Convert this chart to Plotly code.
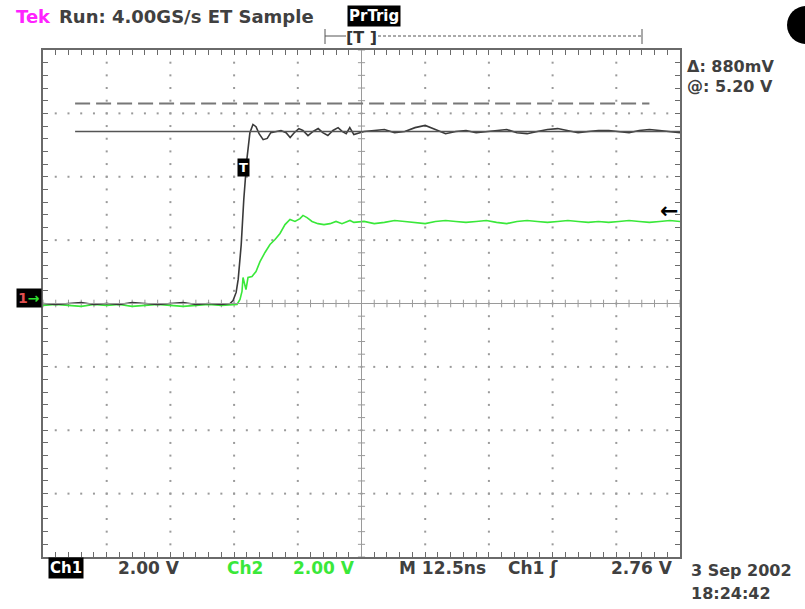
import plotly.graph_objects as go

# ---------------- data ----------------
t_range = [0, 125]      # ns, 12.5 ns/div, 10 divisions
v_range = [-8, 8]       # V, 2.00 V/div, 8 divisions
div_t = 12.5
div_v = 2.0

ch1_t = [0, 2.5, 5, 7.5, 10, 12.5, 15, 17.5, 20, 22.5, 25, 27.5, 30, 32.5, 35,
         36.7, 37.3, 37.9, 38.3, 38.9, 39.4, 40.0, 40.6, 41.2, 41.8,
         42.4, 43.2, 44.0, 44.7, 45.7, 46.7, 47.7, 48.5, 49.3, 50.2,
         51.0, 52.0, 53.0, 54.0, 54.9, 55.9, 56.9, 57.9, 58.7, 59.5, 60.2,
         61, 63, 65, 67, 69, 71, 73, 75, 77, 79, 81, 83, 85, 87, 89, 91, 93,
         95, 97, 99, 101, 103, 105, 107, 109, 111, 113, 115, 117, 119, 121, 123, 125]
ch1_v = [0.0, -0.03, 0.0, 0.03, -0.03, 0.0, -0.03, 0.03, 0.0, -0.03, 0.0, 0.03, -0.03, 0.0, -0.03,
         0.0, 0.09, 0.35, 0.76, 1.86, 3.28, 4.54, 5.39, 5.65, 5.58,
         5.36, 5.17, 5.21, 5.39, 5.43, 5.46, 5.39, 5.24, 5.39, 5.52,
         5.46, 5.30, 5.43, 5.52, 5.39, 5.30, 5.46, 5.55, 5.43, 5.36, 5.55,
         5.33, 5.43, 5.46, 5.49, 5.39, 5.43, 5.55, 5.62, 5.49, 5.36, 5.43, 5.46, 5.39,
         5.43, 5.46, 5.49, 5.39, 5.36, 5.43, 5.49, 5.52, 5.46, 5.39, 5.43, 5.46, 5.46,
         5.43, 5.39, 5.46, 5.49, 5.46, 5.43, 5.39]

ch2_t = [0, 2.5, 5, 7.5, 10, 12.5, 15, 17.5, 20, 22.5, 25, 27.5, 30, 32.5, 35, 37.5,
         38.07, 38.66, 39.05, 39.25, 39.83, 40.23, 41.01, 41.80, 42.58, 43.56,
         44.54, 45.53, 46.51, 47.49, 48.47, 49.45, 50.43, 51.02, 51.81, 52.79,
         53.96, 55.14, 56.32, 57.50, 58.67, 60.24,
         61, 63, 65, 67, 69, 71, 73, 75, 77, 79, 81, 83, 85, 87, 89, 91, 93,
         95, 97, 99, 101, 103, 105, 107, 109, 111, 113, 115, 117, 119, 121, 123, 125]
ch2_v = [-0.06, -0.03, -0.06, -0.09, -0.03, -0.06, -0.03, -0.09, -0.06, -0.03, -0.06, -0.09,
         -0.06, -0.03, -0.06, -0.03,
         -0.03, 0.13, 0.38, 0.82, 0.44, 0.82, 0.85, 1.01, 1.32, 1.61,
         1.86, 2.02, 2.21, 2.49, 2.65, 2.59, 2.68, 2.78, 2.71, 2.59,
         2.52, 2.49, 2.52, 2.59, 2.52, 2.62,
         2.56, 2.59, 2.52, 2.56, 2.62, 2.59, 2.56, 2.52, 2.59, 2.62, 2.59, 2.56, 2.59,
         2.62, 2.56, 2.52, 2.59, 2.62, 2.59, 2.56, 2.59, 2.62, 2.59, 2.56, 2.59, 2.56,
         2.59, 2.62, 2.59, 2.56, 2.59, 2.62, 2.59]

cursor_solid = 5.43     # V
cursor_dash = 6.31      # V
cursor_start = 6.3      # ns
cursor_dash_end = 119.0 # ns
trig_level = 2.95       # V (marker position)
trig_mark = (39.4, 4.29)  # "T" marker on the edge

top_label = "Run: 4.00GS/s ET Sample"
readouts = ["\u0394: 880mV", "@: 5.20 V"]
ch1_scale = "2.00 V"
ch2_scale = "2.00 V"
timebase = "M 12.5ns"
trig_src = "Ch1 \u0283"
trig_val = "2.76 V"
date_txt = "3 Sep 2002"
time_txt = "18:24:42"

# ---------------- layout geometry ----------------
W, H = 805, 609
L, R, T, B = 43, 125, 50, 52
PW, PH = W - L - R, H - T - B


def px(x):
    return (x - L) / PW


def py(y):
    return (H - B - y) / PH


GRID = "#9a9a9a"
FRAME = "#6a6a6a"
GREEN = "#3ae83a"
DARK = "#3a3a3a"
FONT = "DejaVu Sans"

fig = go.Figure()

# dotted graticule
minor_t = [i * div_t / 5 for i in range(int((t_range[1] - t_range[0]) / (div_t / 5)) + 1)]
minor_v = [v_range[0] + j * div_v / 5 for j in range(int((v_range[1] - v_range[0]) / (div_v / 5)) + 1)]
major_t = [k * div_t for k in range(1, 10) if k != 5]
major_v = [v_range[0] + k * div_v for k in range(1, 8) if k != 4]
dx, dy = [], []
for xt in major_t:
    for yv in minor_v[1:-1]:
        dx.append(xt); dy.append(yv)
for yv in major_v:
    for xt in minor_t[1:-1]:
        dx.append(xt); dy.append(yv)
fig.add_trace(go.Scatter(x=dx, y=dy, mode="markers", hoverinfo="skip",
                         marker=dict(size=2, color=GRID, symbol="square", line=dict(width=0))))

# centre cross with ticks
cx, cy = [], []
for xt in minor_t:
    cx += [xt, xt, None]; cy += [-0.12, 0.12, None]
for yv in minor_v:
    cx += [62.5 - 0.7, 62.5 + 0.7, None]; cy += [yv, yv, None]
fig.add_trace(go.Scatter(x=cx, y=cy, mode="lines", hoverinfo="skip",
                         line=dict(color=GRID, width=1)))
fig.add_shape(type="line", x0=62.5, x1=62.5, y0=v_range[0], y1=v_range[1],
              line=dict(color=GRID, width=1))
fig.add_shape(type="line", x0=t_range[0], x1=t_range[1], y0=0, y1=0,
              line=dict(color=GRID, width=1))

# cursors
fig.add_shape(type="line", x0=cursor_start, x1=cursor_dash_end, y0=cursor_dash, y1=cursor_dash,
              line=dict(color="#777777", width=2, dash="15px,6px"))
fig.add_shape(type="line", x0=cursor_start, x1=t_range[1], y0=cursor_solid, y1=cursor_solid,
              line=dict(color="#555555", width=1.5))

# waveforms
fig.add_trace(go.Scatter(x=ch2_t, y=ch2_v, mode="lines", hoverinfo="skip",
                         line=dict(color=GREEN, width=1.6)))
fig.add_trace(go.Scatter(x=ch1_t, y=ch1_v, mode="lines", hoverinfo="skip",
                         line=dict(color=DARK, width=1.6)))

# trigger marker on trace
fig.add_annotation(x=trig_mark[0], y=trig_mark[1], xref="x", yref="y", text="<b>T</b>",
                   showarrow=False, bgcolor="black", font=dict(color="white", size=13, family=FONT),
                   borderpad=1)
# trigger level arrow at right
fig.add_annotation(x=1.0, y=trig_level, xref="paper", yref="y", text="<b>\u2190</b>",
                   xanchor="right", showarrow=False, font=dict(color="black", size=22, family=FONT))
# ground marker at left
fig.add_annotation(x=px(16), y=py(298), xref="paper", yref="paper",
                   text="<span style='color:#e05050'><b>1</b></span><span style='color:#30e030'><b>\u2192</b></span>",
                   xanchor="left", showarrow=False, bgcolor="black",
                   font=dict(size=14, family=FONT), borderpad=1)

# ---------------- texts ----------------
def txt(x, y, s, color="#404040", size=17, bold=True, anchor="left", **kw):
    fig.add_annotation(x=px(x), y=py(y), xref="paper", yref="paper",
                       text=("<b>%s</b>" % s) if bold else s, showarrow=False,
                       xanchor=anchor, yanchor="middle",
                       font=dict(color=color, size=size, family=FONT), **kw)

txt(14, 16, "Tek", color="#ff22ff", size=18)
txt(57, 16, top_label, size=18)
txt(347, 16, "PrTrig", color="white", size=15, bgcolor="black", borderpad=1)
txt(361, 37, "[T ]", color="#333333", size=16, anchor="center")
txt(685, 67, readouts[0], size=16)
txt(685, 86, readouts[1], size=16)

txt(48, 568, "Ch1", color="white", size=15, bgcolor="black", borderpad=1)
txt(116, 568, ch1_scale)
txt(225, 568, "Ch2", color=GREEN)
txt(291, 568, ch2_scale, color=GREEN)
txt(397, 568, timebase)
txt(506, 568, trig_src)
txt(609, 568, trig_val)
txt(689, 570, date_txt, size=16)
txt(689, 593, time_txt, size=16)

# record indicator
fig.add_shape(type="line", xref="paper", yref="paper", x0=px(325), x1=px(346), y0=py(36), y1=py(36),
              line=dict(color="#555555", width=1))
fig.add_shape(type="line", xref="paper", yref="paper", x0=px(378), x1=px(642), y0=py(36), y1=py(36),
              line=dict(color="#555555", width=1, dash="3px,2px"))
for xe in (325, 642):
    fig.add_shape(type="line", xref="paper", yref="paper", x0=px(xe), x1=px(xe), y0=py(29), y1=py(44),
                  line=dict(color="#555555", width=1))
# corner circle
fig.add_shape(type="circle", xref="paper", yref="paper", x0=px(787), x1=px(825), y0=py(44), y1=py(6),
              fillcolor="black", line=dict(color="black", width=0))

axis_common = dict(showgrid=False, zeroline=False, showticklabels=False, ticks="inside",
                   ticklen=5, tickcolor=FRAME, tickwidth=1, showline=True, linecolor=FRAME,
                   linewidth=2, mirror="ticks", fixedrange=True)
fig.update_layout(
    width=W, height=H, margin=dict(l=L, r=R, t=T, b=B),
    paper_bgcolor="white", plot_bgcolor="white", showlegend=False,
    xaxis=dict(range=t_range, tick0=0, dtick=div_t / 5, **axis_common),
    yaxis=dict(range=v_range, tick0=v_range[0], dtick=div_v / 5, **axis_common),
)

fig.write_html("out.html", config={"displayModeBar": False},
               post_script="document.body.style.margin='0';document.body.style.overflow='hidden';")
